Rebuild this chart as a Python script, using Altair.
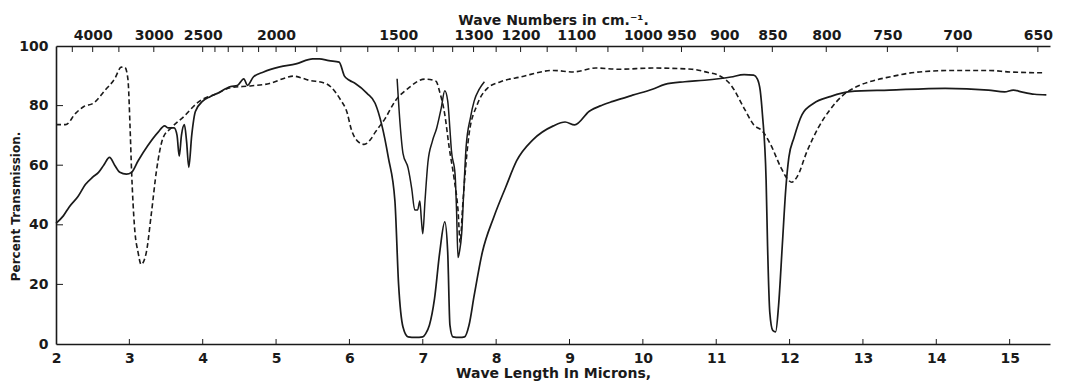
import altair as alt
import pandas as pd

# ---- data (wavelength in microns, percent transmission) ----
solid_x = [2.0, 2.1, 2.18, 2.3, 2.4, 2.5, 2.58, 2.65, 2.73, 2.80, 2.87, 2.96, 3.03, 3.12, 3.25,
           3.39, 3.48, 3.53, 3.61, 3.65, 3.68, 3.71, 3.75, 3.78, 3.81, 3.85, 3.90, 4.0, 4.1, 4.2,
           4.38, 4.47, 4.56, 4.61, 4.69, 4.83, 5.05, 5.27, 5.50, 5.59, 5.72, 5.86, 5.93, 6.0,
           6.08, 6.24, 6.35, 6.44, 6.53, 6.62, 6.67, 6.73, 6.80, 6.9, 7.0, 7.04, 7.09, 7.16,
           7.23, 7.30, 7.34, 7.37, 7.41, 7.5, 7.57, 7.63, 7.70, 7.81, 7.97, 8.13, 8.28, 8.5,
           8.78, 8.94, 9.07, 9.27, 9.45, 9.59, 9.86, 10.13, 10.30, 10.57, 10.84, 11.03, 11.20,
           11.38, 11.51, 11.56, 11.60, 11.63, 11.68, 11.70, 11.73, 11.77, 11.81, 11.85, 11.90,
           11.95, 11.99, 12.06, 12.17, 12.33, 12.55, 12.82, 13.36, 14.12, 14.71, 14.93, 15.05,
           15.16, 15.34, 15.5]
solid_y = [40.5, 43, 46, 49.5, 53.5, 56, 57.6, 60, 62.6, 60, 57.6, 57, 57.6, 61.5, 66.5,
           71, 73.2, 72.5, 72.5, 70, 63, 70, 73.6, 68, 59.3, 70, 78, 81.5, 83, 84.1,
           86.4, 86.7, 89, 86.8, 89.6, 91.3, 93, 94, 95.7, 95.7, 95.1, 94.6, 90, 88.5,
           87.4, 84.1, 80.8, 73.6, 62.6, 48, 20, 5.7, 2.4, 2.2, 2.4, 3.5, 6.3, 15.2,
           30.6, 41, 30.6, 6.3, 2.4, 2.2, 2.4, 6.3, 16.2, 30.6, 42.7, 52.6, 61.5, 68.5,
           73.2, 74.5, 73.5, 78.1, 80.2, 81.4, 83.5, 85.5, 87.1, 88, 88.5, 89, 89.6,
           90.4, 90.2, 89, 85, 77, 55, 32.8, 10.7, 4.6, 4.1, 12.9, 32.8,
           52.6, 62.6, 69.2, 77, 80.8, 83, 84.7, 85.2, 85.8, 85.2, 84.6, 85.2,
           84.6, 83.8, 83.6]

dashed_x = [2.0, 2.13, 2.27, 2.38, 2.51, 2.67, 2.80, 2.89, 2.94, 2.98, 3.01, 3.03, 3.07, 3.12,
            3.16, 3.23, 3.30, 3.37, 3.46, 3.57, 3.75, 3.93, 4.20, 4.38, 4.65, 4.91, 5.14, 5.23,
            5.45, 5.68, 5.81, 5.88, 5.97, 6.02, 6.11, 6.20, 6.29, 6.35, 6.49, 6.62, 6.80, 7.03,
            7.18, 7.23, 7.30, 7.36, 7.43, 7.48, 7.51, 7.54, 7.57, 7.63, 7.74, 7.88, 8.06, 8.33,
            8.78, 9.05, 9.36, 9.68, 10.13, 10.67, 10.89, 11.03, 11.20, 11.38, 11.51, 11.63,
            11.74, 11.88, 11.97, 12.03, 12.10, 12.24, 12.39, 12.55, 12.73, 12.91, 13.09, 13.36,
            13.77, 14.26, 14.71, 15.0, 15.47]
dashed_y = [73.6, 73.6, 77.5, 79.7, 80.8, 85.2, 89, 92.9, 92.8, 89, 72.5, 58.2, 39.4, 30.6,
            26.7, 30.6, 43.8, 58.2, 69.2, 72.5, 76.5, 81, 84.1, 86, 86.6, 87.4, 89.4, 89.9,
            88.5, 87.4, 84.5, 81.9, 77.5, 72.5, 68.1, 67, 68.7, 71, 75.8, 81.4, 85.8, 88.9,
            88.2, 84.6, 77, 65.9, 55, 45, 34, 45, 55, 70.3, 80.2, 85.8, 88, 89.6,
            91.8, 91.3, 92.6, 92.2, 92.6, 92.2, 91.1, 90.2, 86.9, 79.1, 73.6, 71.4,
            67, 59.3, 55.4, 54.3, 56, 64.8, 72.5, 78.6, 83.5, 86.3, 88, 89.6,
            91.3, 91.8, 91.8, 91.3, 91]

second_x = [6.65, 6.69, 6.73, 6.80, 6.85, 6.89, 6.93, 6.96, 6.98, 7.0, 7.03, 7.07, 7.13, 7.19,
            7.25, 7.30, 7.34, 7.37, 7.39, 7.44, 7.46, 7.48, 7.50, 7.53, 7.56, 7.59, 7.65, 7.70,
            7.77, 7.84]
second_y = [89, 74, 64, 59, 52, 45, 45, 48, 42, 37, 48, 61, 68, 72.5,
            79, 85, 81.5, 72, 65, 57, 45, 29, 31, 37, 52, 66, 76, 81.5,
            85.5, 88]

micron_ticks = [2, 3, 4, 5, 6, 7, 8, 9, 10, 11, 12, 13, 14, 15]
percent_ticks = [0, 20, 40, 60, 80, 100]
inner_percent_ticks = [20, 40, 60, 80]
wavenumber_labels = [4000, 3000, 2500, 2000, 1500, 1300, 1200, 1100, 1000, 950, 900, 850,
                     800, 750, 700, 650]
wavenumber_ticks = [4500, 4000, 3500, 3000, 2500, 2400, 2300, 2200, 2100, 2000, 1900, 1800,
                    1700, 1600, 1500, 1450, 1400, 1350, 1300, 1250, 1200, 1150, 1100, 1050,
                    1000, 950, 900, 850, 800, 750, 700, 650]

FONT = "DejaVu Sans"
INK = "#1a1a1a"
W, H = 994, 298

xscale = alt.Scale(domain=[2, 15.55], nice=False, zero=False)
yscale = alt.Scale(domain=[0, 100], nice=False)

solid_df = pd.DataFrame({"x": solid_x, "y": solid_y})
dashed_df = pd.DataFrame({"x": dashed_x, "y": dashed_y})
second_df = pd.DataFrame({"x": second_x, "y": second_y})

bottom_axis = alt.Axis(
    orient="bottom", values=micron_ticks, tickSize=0, labelPadding=7,
    labelFont=FONT, labelFontWeight="bold", labelFontSize=14, labelColor=INK,
    title="Wave Length In Microns,", titleFont=FONT, titleFontWeight="bold",
    titleFontSize=14, titleColor=INK, titlePadding=1,
    domainColor=INK, domainWidth=1.6, grid=False, labelFlush=False,
)
left_axis = alt.Axis(
    orient="left", values=percent_ticks, tickSize=0, labelPadding=8,
    labelFont=FONT, labelFontWeight="bold", labelFontSize=14, labelColor=INK,
    title="Percent Transmission.", titleFont=FONT, titleFontWeight="bold",
    titleFontSize=12, titleColor=INK, titleX=-34, titleY=160,
    domainColor=INK, domainWidth=1.6, grid=False, labelFlush=False,
)

solid = alt.Chart(solid_df).mark_line(color=INK, strokeWidth=1.7, interpolate="monotone").encode(
    x=alt.X("x:Q", scale=xscale, axis=bottom_axis),
    y=alt.Y("y:Q", scale=yscale, axis=left_axis),
)
dashed = alt.Chart(dashed_df).mark_line(
    color=INK, strokeWidth=1.6, strokeDash=[5, 3], interpolate="monotone"
).encode(
    x=alt.X("x:Q", scale=xscale, axis=None),
    y=alt.Y("y:Q", scale=yscale, axis=None),
)
second = alt.Chart(second_df).mark_line(color=INK, strokeWidth=1.5, interpolate="monotone").encode(
    x=alt.X("x:Q", scale=xscale, axis=None),
    y=alt.Y("y:Q", scale=yscale, axis=None),
)

# top axis in wave numbers (cm^-1) on the same wavelength scale
top_lab_df = pd.DataFrame({"wn": wavenumber_labels})
top_lab_expr = "round(10000/datum.value)"
top_axis_layer = alt.Chart(top_lab_df).transform_calculate(
    x="10000/datum.wn"
).mark_point(opacity=0).encode(
    x=alt.X("x:Q", scale=xscale, axis=alt.Axis(
        orient="top", values=[10000 / w for w in wavenumber_labels], tickSize=0,
        labelExpr=top_lab_expr, labelPadding=4, labelOverlap=False, labelFlush=False,
        labelFont=FONT, labelFontWeight="bold", labelFontSize=14, labelColor=INK,
        title="Wave Numbers in cm.\u207b\u00b9.", titleFont=FONT, titleFontWeight="bold",
        titleFontSize=14, titleColor=INK, titlePadding=1,
        domainColor=INK, domainWidth=1.6, grid=False,
    )),
    y=alt.value(0),
)

top_ticks = alt.Chart(pd.DataFrame({"wn": wavenumber_ticks})).transform_calculate(
    x="10000/datum.wn"
).mark_rule(color=INK, strokeWidth=1).encode(
    x=alt.X("x:Q", scale=xscale, axis=None),
    y=alt.value(0), y2=alt.value(6),
)
bottom_ticks = alt.Chart(pd.DataFrame({"x": micron_ticks[1:]})).mark_rule(
    color=INK, strokeWidth=1
).encode(
    x=alt.X("x:Q", scale=xscale, axis=None),
    y=alt.value(H), y2=alt.value(H - 5),
)
left_ticks = alt.Chart(pd.DataFrame({"y": inner_percent_ticks})).mark_rule(
    color=INK, strokeWidth=1
).encode(
    y=alt.Y("y:Q", scale=yscale, axis=None),
    x=alt.value(0), x2=alt.value(7),
)

chart = alt.layer(
    solid, top_axis_layer, top_ticks, bottom_ticks, left_ticks, dashed, second
).resolve_axis(x="independent", y="independent").properties(
    width=W, height=H,
    autosize=alt.AutoSizeParams(type="none"),
    padding={"left": 48, "top": 38, "right": 7, "bottom": 38},
    background="white",
).configure_view(stroke=None)

chart.save("out.html", embed_options={"renderer": "svg", "actions": False})
